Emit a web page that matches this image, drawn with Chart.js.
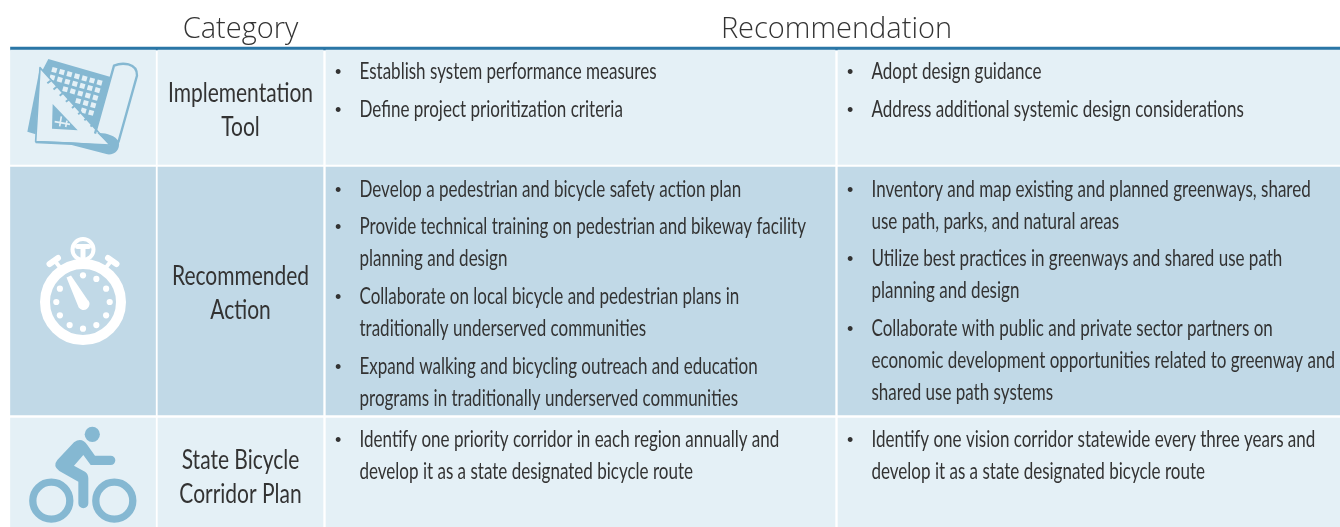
<!DOCTYPE html>
<html>
<head>
<meta charset="utf-8">
<title>Recommendations</title>
<script src="https://cdn.jsdelivr.net/npm/chart.js@4/dist/chart.umd.js"></script>
<style>
html,body{margin:0;padding:0;background:#fff;}
canvas{display:block;}
</style>
</head>
<body>
<canvas id="myChart" width="1340" height="527"></canvas>
<script>
"use strict";
// table content, one row per category
var headers = ["Category", "Recommendation"];
var categories = [
    ["Implementation", "Tool"],
    ["Recommended", "Action"],
    ["State Bicycle", "Corridor Plan"]
];
var leftItems = [
    [["Establish system performance measures"], ["Define project prioritization criteria"]],
    [["Develop a pedestrian and bicycle safety action plan"],
     ["Provide technical training on pedestrian and bikeway facility", "planning and design"],
     ["Collaborate on local bicycle and pedestrian plans in", "traditionally underserved communities"],
     ["Expand walking and bicycling outreach and education", "programs in traditionally underserved communities"]],
    [["Identify one priority corridor in each region annually and", "develop it as a state designated bicycle route"]]
];
var rightItems = [
    [["Adopt design guidance"], ["Address additional systemic design considerations"]],
    [["Inventory and map existing and planned greenways, shared", "use path, parks, and natural areas"],
     ["Utilize best practices in greenways and shared use path", "planning and design"],
     ["Collaborate with public and private sector partners on", "economic development opportunities related to greenway and", "shared use path systems"]],
    [["Identify one vision corridor statewide every three years and", "develop it as a state designated bicycle route"]]
];

// layout, in page units
var colEdges = [[10.5, 155.5], [158, 323], [326, 835], [838, 1340]];
var rowEdges = [[50, 164.5], [167, 415], [418, 527]];
var rowColors = ["#e4f0f6", "#c1d9e7", "#e4f0f6"];
var ruleColor = "#2a76a6";
var iconColor = "#85b8d2";
var textColor = "#333333";
var leftLineY = [[71, 109], [189, 226, 258, 296, 328, 366, 398], [439, 471]];
var rightLineY = [[71, 109], [189, 221, 258, 290, 328, 360, 392], [439, 471]];
var catLineY = [[93, 127], [276, 310], [460, 494]];
var bodyFont = '24px "Lato"';
var catFont = '27px "Lato"';
var bulletFont = '18px "Liberation Sans"';

function rowDataset(r) {
    return {
        label: categories[r].join(" "),
        data: colEdges.map(function (c) {
            return { x: c, y: (rowEdges[r][0] + rowEdges[r][1]) / 2 };
        }),
        backgroundColor: rowColors[r],
        barThickness: rowEdges[r][1] - rowEdges[r][0],
        grouped: false,
        borderWidth: 0
    };
}

// no condensed face is installed, so squeeze the text to the measured width
function fitScale(ctx, font, s, width) {
    ctx.font = font;
    return width / ctx.measureText(s).width;
}

function narrowText(ctx, s, x, y, font, sx, align) {
    ctx.save();
    ctx.font = font;
    ctx.textAlign = align;
    ctx.textBaseline = "alphabetic";
    ctx.translate(x, y);
    ctx.scale(sx, 1);
    ctx.fillText(s, 0, 0);
    ctx.restore();
}

function drawColumn(ctx, items, lineY, textX, bulletX, toY, sx) {
    items.forEach(function (rowItems, r) {
        var n = 0;
        rowItems.forEach(function (lines) {
            lines.forEach(function (line, k) {
                if (k === 0) {
                    narrowText(ctx, "\u2022", bulletX, toY(lineY[r][n] + 7), bulletFont, 1, "left");
                }
                narrowText(ctx, line, textX, toY(lineY[r][n] + 8), bodyFont, sx, "left");
                n++;
            });
        });
    });
}

function poly(ctx, pts) {
    ctx.beginPath();
    pts.forEach(function (p, i) {
        if (i === 0) ctx.moveTo(p[0], p[1]);
        else ctx.lineTo(p[0], p[1]);
    });
    ctx.closePath();
}

function drawPlanIcon(ctx) {
    var bg = rowColors[0], i, j;
    ctx.save();
    ctx.translate(20, 55);
    ctx.scale(1 / 3, 1 / 3);
    ctx.fillStyle = iconColor;
    ctx.strokeStyle = iconColor;
    ctx.lineJoin = "round";
    // grid sheet
    poly(ctx, [[85, 12], [272, 66], [225, 240], [60, 60]]);
    ctx.fill();
    ctx.fillStyle = bg;
    for (i = 0; i < 7; i++) {
        for (j = 0; j < 9; j++) {
            var gx = 103 + i * 22.6 - j * 6.3, gy = 45 + i * 6.3 + j * 22.6;
            if (gy > gx - 22) continue;
            ctx.save();
            ctx.translate(gx, gy);
            ctx.rotate(15.5 * Math.PI / 180);
            ctx.fillRect(-7.5, -7.5, 15, 15);
            ctx.restore();
        }
    }
    // back sheet edge
    ctx.fillStyle = iconColor;
    poly(ctx, [[60, 38], [22, 230], [47, 238]]);
    ctx.fill();
    // set square
    ctx.fillStyle = bg;
    ctx.lineWidth = 5;
    poly(ctx, [[60, 38], [270, 270], [47, 260]]);
    ctx.fill();
    ctx.stroke();
    // scale teeth on the long side
    ctx.lineWidth = 6;
    ctx.beginPath();
    for (i = 0; i < 8; i++) {
        var tx = 82 + i * 18.5, ty = 85 + i * 18.5;
        ctx.moveTo(tx, ty);
        ctx.lineTo(tx + 10, ty - 8);
    }
    ctx.stroke();
    // cut out of the set square
    ctx.fillStyle = iconColor;
    poly(ctx, [[98, 147], [173, 226], [96, 221]]);
    ctx.fill();
    ctx.strokeStyle = bg;
    ctx.lineWidth = 5;
    ctx.beginPath();
    ctx.moveTo(104, 200); ctx.lineTo(150, 208);
    ctx.moveTo(124, 184); ctx.lineTo(119, 214);
    ctx.moveTo(141, 197); ctx.lineTo(137, 216);
    ctx.stroke();
    // paper roll
    ctx.strokeStyle = iconColor;
    ctx.lineWidth = 7;
    ctx.beginPath();
    ctx.moveTo(225, 236);
    ctx.lineTo(282, 32);
    ctx.bezierCurveTo(305, 22, 352, 22, 351, 62);
    ctx.lineTo(295, 262);
    ctx.stroke();
    // lower curl
    ctx.fillStyle = iconColor;
    ctx.beginPath();
    ctx.moveTo(47, 258);
    ctx.lineTo(47, 265);
    ctx.lineTo(155, 270);
    ctx.lineTo(262, 298);
    ctx.bezierCurveTo(285, 300, 300, 285, 297, 260);
    ctx.bezierCurveTo(285, 240, 255, 232, 232, 234);
    ctx.lineTo(270, 271);
    ctx.lineTo(155, 262);
    ctx.closePath();
    ctx.fill();
    ctx.restore();
}

function drawWatchIcon(ctx) {
    var cx = 83, cy = 302, i;
    ctx.save();
    ctx.fillStyle = "#ffffff";
    ctx.strokeStyle = "#ffffff";
    ctx.beginPath();
    ctx.arc(cx, cy, 38, 0, Math.PI * 2);
    ctx.lineWidth = 10;
    ctx.stroke();
    // crown
    ctx.lineWidth = 4;
    ctx.beginPath();
    ctx.arc(cx, 249.5, 10.5, 0, Math.PI * 2);
    ctx.stroke();
    ctx.lineCap = "round";
    ctx.lineWidth = 5;
    ctx.beginPath();
    ctx.moveTo(cx - 5.5, 246.5); ctx.lineTo(cx + 5.5, 246.5);
    ctx.moveTo(cx, 247); ctx.lineTo(cx, 262);
    ctx.stroke();
    // side buttons
    ctx.lineCap = "butt";
    ctx.lineWidth = 4;
    ctx.beginPath();
    ctx.moveTo(62, 270); ctx.lineTo(55, 261);
    ctx.moveTo(104, 270); ctx.lineTo(111, 261);
    ctx.stroke();
    ctx.lineCap = "round";
    ctx.lineWidth = 6;
    ctx.beginPath();
    ctx.moveTo(49.5, 264); ctx.lineTo(58, 258);
    ctx.moveTo(116.5, 264); ctx.lineTo(108, 258);
    ctx.stroke();
    // dial dots, the eleventh hour sits under the hand
    for (i = 0; i < 12; i++) {
        if (i === 11) continue;
        var a = i * Math.PI / 6;
        ctx.beginPath();
        ctx.arc(cx + 26.7 * Math.sin(a), cy - 26.7 * Math.cos(a), 3.1, 0, Math.PI * 2);
        ctx.fill();
    }
    // hand
    ctx.beginPath();
    ctx.moveTo(66.5, 277.5);
    ctx.lineTo(71, 275.5);
    ctx.lineTo(88, 300.5);
    ctx.arc(83.5, 304, 6, -0.6, 2.5);
    ctx.closePath();
    ctx.fill();
    ctx.restore();
}

function drawBikeIcon(ctx) {
    ctx.save();
    ctx.fillStyle = iconColor;
    ctx.strokeStyle = iconColor;
    ctx.lineWidth = 7.3;
    ctx.beginPath();
    ctx.arc(51.3, 500.7, 18.5, 0, Math.PI * 2);
    ctx.stroke();
    ctx.beginPath();
    ctx.arc(114.3, 500.7, 18.5, 0, Math.PI * 2);
    ctx.stroke();
    ctx.beginPath();
    ctx.arc(92.3, 434.3, 7.6, 0, Math.PI * 2);
    ctx.fill();
    // rider, traced at 3x
    ctx.scale(1 / 3, 1 / 3);
    ctx.translate(0, 1200);
    ctx.beginPath();
    ctx.moveTo(222, 127);
    ctx.quadraticCurveTo(245, 110, 262, 135);
    ctx.lineTo(285, 167);
    ctx.lineTo(332, 167);
    ctx.arc(332, 181, 14, -Math.PI / 2, Math.PI / 2);
    ctx.lineTo(272, 195);
    ctx.lineTo(250, 165);
    ctx.lineTo(222, 197);
    ctx.lineTo(255, 215);
    ctx.quadraticCurveTo(265, 222, 265, 235);
    ctx.lineTo(265, 310);
    ctx.arc(250, 310, 15, 0, Math.PI);
    ctx.lineTo(235, 245);
    ctx.lineTo(178, 213);
    ctx.quadraticCurveTo(157, 198, 172, 180);
    ctx.closePath();
    ctx.fill();
    ctx.restore();
}

var tablePlugin = {
    id: "tablePlugin",
    afterDatasetsDraw: function (chart) {
        var ctx = chart.ctx;
        var xs = chart.scales.x, ys = chart.scales.y;
        var toY = function (v) { return ys.getPixelForValue(v); };
        ctx.save();
        // headers
        ctx.fillStyle = textColor;
        ctx.font = '300 29px "Open Sans"';
        ctx.textAlign = "center";
        ctx.textBaseline = "alphabetic";
        ctx.fillText(headers[0], xs.getPixelForValue(240.5), toY(38));
        ctx.fillText(headers[1], xs.getPixelForValue(836.5), toY(38));
        // category names
        var catScale = fitScale(ctx, catFont, "Implementation", 145);
        categories.forEach(function (lines, r) {
            lines.forEach(function (line, k) {
                narrowText(ctx, line, xs.getPixelForValue(240.5), toY(catLineY[r][k] + 9), catFont, catScale, "center");
            });
        });
        var bodyScale = fitScale(ctx, bodyFont, leftItems[0][0][0], 297);
        drawColumn(ctx, leftItems, leftLineY, xs.getPixelForValue(359.5), xs.getPixelForValue(335), toY, bodyScale);
        drawColumn(ctx, rightItems, rightLineY, xs.getPixelForValue(871.5), xs.getPixelForValue(847), toY, bodyScale);
        ctx.restore();
        drawPlanIcon(ctx);
        drawWatchIcon(ctx);
        drawBikeIcon(ctx);
    }
};

var datasets = [0, 1, 2].map(rowDataset);
datasets.push({
    label: "rule",
    data: [{ x: [10.5, 1340], y: 48.5 }],
    backgroundColor: ruleColor,
    barThickness: 3,
    grouped: false,
    borderWidth: 0
});

new Chart(document.getElementById("myChart"), {
    type: "bar",
    data: { datasets: datasets },
    options: {
        indexAxis: "y",
        responsive: false,
        animation: false,
        layout: { padding: 0 },
        plugins: { legend: { display: false }, tooltip: { enabled: false }, title: { display: false } },
        scales: {
            x: { type: "linear", min: 0, max: 1340, display: false },
            y: { type: "linear", min: 0, max: 527, reverse: true, offset: false, display: false }
        }
    },
    plugins: [tablePlugin]
});
</script>
</body>
</html>
